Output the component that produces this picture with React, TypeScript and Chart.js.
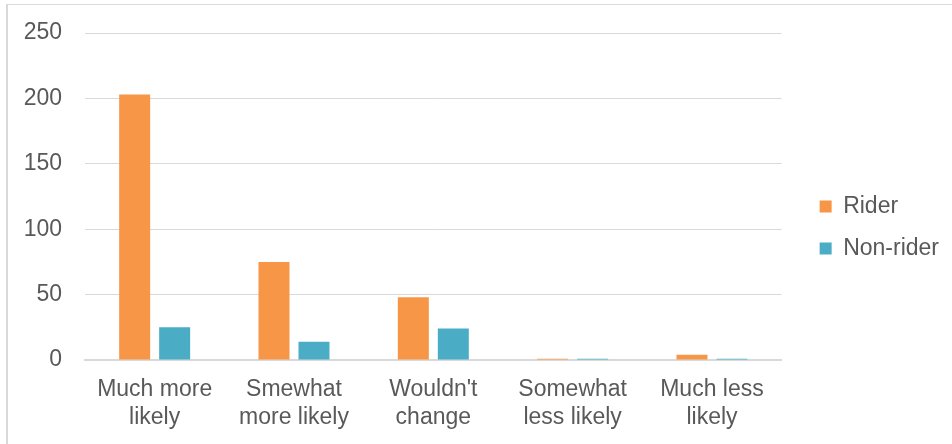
import React, { useEffect, useRef } from "react";
import { Chart, registerables } from "chart.js";

Chart.register(...registerables);

const categories: string[][] = [
  ["Much more", "likely"],
  ["Smewhat", "more likely"],
  ["Wouldn't", "change"],
  ["Somewhat", "less likely"],
  ["Much less", "likely"],
];
const riderValues = [203, 75, 48, 1, 4];
const nonRiderValues = [25, 14, 24, 1, 1];
const yTicks = [0, 50, 100, 150, 200, 250];

const TEXT = "#595959";
const GRID = "#d9d9d9";
const FONT = "'Liberation Sans', Arial, sans-serif";

// Shrinks the legend's box from below so its centred items sit a bit higher.
const legendLift = {
  id: "legendLift",
  afterLayout(chart: any) {
    const lg = chart.legend;
    if (lg) {
      lg.bottom -= 22;
      lg.height -= 22;
    }
  },
};

export default function App() {
  const ref = useRef<HTMLCanvasElement | null>(null);
  useEffect(() => {
    if (!ref.current) return;
    const chart = new Chart(ref.current, {
      type: "bar",
      data: {
        labels: categories,
        datasets: [
          {
            label: "Rider",
            data: riderValues,
            backgroundColor: "#F79646",
            categoryPercentage: 0.574,
            barPercentage: 0.775,
          },
          {
            label: "Non-rider",
            data: nonRiderValues,
            backgroundColor: "#4BACC6",
            categoryPercentage: 0.574,
            barPercentage: 0.775,
          },
        ],
      },
      plugins: [legendLift],
      options: {
        responsive: false,
        animation: false,
        devicePixelRatio: 1,
        layout: { padding: { top: 33, right: 3, bottom: 0, left: 0 } },
        plugins: {
          tooltip: { enabled: false },
          legend: {
            position: "right",
            align: "center",
            labels: {
              boxWidth: 12,
              boxHeight: 12,
              padding: 19,
              color: TEXT,
              font: { family: FONT, size: 23 },
            },
          },
        },
        scales: {
          x: {
            grid: { display: false, drawTicks: false },
            border: { display: true, color: GRID, width: 2 },
            ticks: {
              color: TEXT,
              font: { family: FONT, size: 23, lineHeight: 28 / 23 },
              padding: 16,
              maxRotation: 0,
              autoSkip: false,
            },
            afterFit: (s: any) => {
              s.height = 84;
            },
          },
          y: {
            min: 0,
            max: 250,
            afterBuildTicks: (s: any) => {
              s.ticks = yTicks.map((v) => ({ value: v }));
            },
            grid: { color: GRID, lineWidth: 1, drawTicks: false },
            border: { display: false },
            ticks: {
              color: TEXT,
              font: { family: FONT, size: 23 },
              padding: 23,
            },
            afterFit: (s: any) => {
              s.width = 85;
              s.paddingTop = 0;
              s.paddingBottom = 0;
            },
          },
          spacer: {
            type: "linear",
            position: "right",
            display: true,
            grid: { display: false, drawTicks: false },
            border: { display: false },
            ticks: { display: false },
            afterFit: (s: any) => {
              s.width = 19;
              s.paddingTop = 0;
              s.paddingBottom = 0;
            },
          },
        },
      },
    });
    return () => chart.destroy();
  }, []);
  return (
    <div>
      <div
        style={{
          position: "fixed",
          left: 6,
          top: 4,
          width: 1000,
          height: 500,
          borderTop: "1px solid " + GRID,
          borderLeft: "2px solid " + GRID,
        }}
      />
      <canvas
        ref={ref}
        width={952}
        height={444}
        style={{ position: "fixed", left: 0, top: 0, width: 952, height: 444 }}
      />
    </div>
  );
}
